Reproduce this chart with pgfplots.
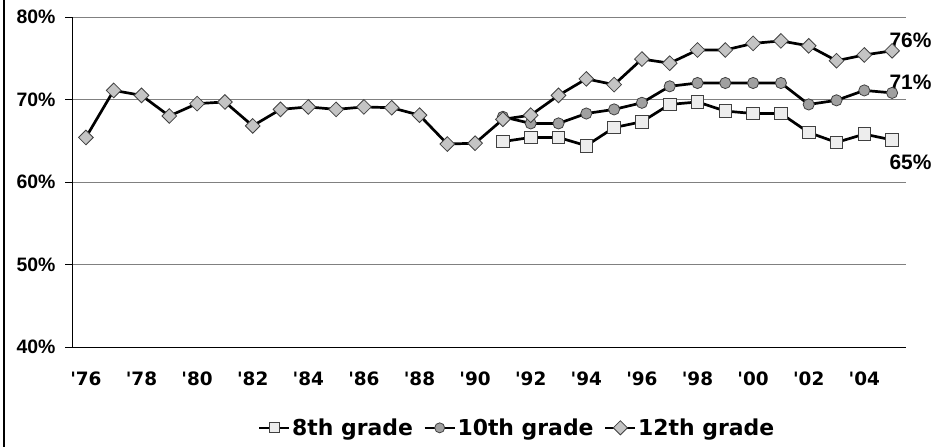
\documentclass[border=0pt]{standalone}
\usepackage{pgfplots}
\pgfplotsset{compat=1.18}
\usepackage{pgfplotstable}
\usepackage{fontspec}
\setmainfont{Liberation Sans}
\newfontfamily\dv{DejaVu Sans}
\definecolor{gridc}{HTML}{808080}
\definecolor{fill8}{HTML}{EDEDED}
\definecolor{fill10}{HTML}{A0A0A0}
\definecolor{fill12}{HTML}{C4C4C4}
\definecolor{edge}{HTML}{404040}

\pgfplotstableread{
year val
1976 65.4
1977 71.1
1978 70.5
1979 68.0
1980 69.5
1981 69.7
1982 66.8
1983 68.8
1984 69.1
1985 68.8
1986 69.1
1987 69.0
1988 68.1
1989 64.6
1990 64.7
1991 67.6
1992 68.1
1993 70.5
1994 72.5
1995 71.8
1996 74.9
1997 74.4
1998 76.0
1999 76.0
2000 76.8
2001 77.1
2002 76.5
2003 74.7
2004 75.4
2005 75.9
}\twelfth

\pgfplotstableread{
year val
1991 67.9
1992 67.1
1993 67.1
1994 68.3
1995 68.8
1996 69.6
1997 71.6
1998 72.0
1999 72.0
2000 72.0
2001 72.0
2002 69.4
2003 69.9
2004 71.1
2005 70.8
}\tenth

\pgfplotstableread{
year val
1991 64.9
1992 65.4
1993 65.4
1994 64.4
1995 66.6
1996 67.3
1997 69.4
1998 69.7
1999 68.6
2000 68.3
2001 68.3
2002 66.0
2003 64.8
2004 65.8
2005 65.1
}\eighth

\begin{document}
\begin{tikzpicture}
\begin{axis}[name=ax,
  scale only axis, width=834bp, height=330bp,
  xmin=1975.5, xmax=2005.5, ymin=40, ymax=80,
  axis x line*=bottom, axis y line*=left,
  axis line style={black, line width=0.8bp},
  xtick={1976,1978,...,2004},
  xticklabels={\textquotesingle76,\textquotesingle78,\textquotesingle80,\textquotesingle82,\textquotesingle84,\textquotesingle86,\textquotesingle88,\textquotesingle90,\textquotesingle92,\textquotesingle94,\textquotesingle96,\textquotesingle98,\textquotesingle00,\textquotesingle02,\textquotesingle04},
  minor xtick={1975.5,1976.5,...,2005.5},
  tick align=outside,
  x tick style={draw=none},
  minor x tick style={black, line width=0.8bp},
  minor tick length=7bp,
  ytick={40,50,60,70,80},
  yticklabels={40\%,50\%,60\%,70\%,80\%},
  y tick style={black, line width=0.8bp},
  major tick length=7bp,
  ymajorgrids, major grid style={gridc, line width=0.9bp},
  xticklabel style={font=\dv\bfseries\fontsize{18.5}{20}\selectfont, yshift=-14bp},
  yticklabel style={font=\bfseries\fontsize{19.5}{22}\selectfont, xshift=-6bp},
  clip=false,
  legend columns=3,
  legend style={draw=none, fill=none, at={(0.534,-0.245)}, anchor=center,
    font=\dv\bfseries\fontsize{22}{24}\selectfont,
    /tikz/every even column/.append style={column sep=9bp}},
  legend image code/.code={
    \draw[black, line width=1.6bp] (0bp,0bp) -- (30bp,0bp);
    \draw[#1, mark size=5bp, line width=0.8bp] plot coordinates {(15bp,0bp)};
  },
]
\addplot[black, line width=2.7bp, mark=square*, mark size=6.3bp,
  mark options={fill=fill8, draw=edge, line width=0.8bp}] table[x=year,y=val]{\eighth};
\addlegendentry{8th grade}
\addplot[black, line width=2.7bp, mark=*, mark size=5.6bp,
  mark options={fill=fill10, draw=edge, line width=0.8bp}] table[x=year,y=val]{\tenth};
\addlegendentry{10th grade}
\addplot[black, line width=2.7bp, mark=square*, mark size=5.2bp,
  mark options={fill=fill12, draw=edge, line width=0.8bp, rotate=45}] table[x=year,y=val]{\twelfth};
\addlegendentry{12th grade}
\node[anchor=west, font=\bfseries\fontsize{21}{23}\selectfont, inner sep=0pt] at (axis cs:2004.9,77.2) {76\%};
\node[anchor=west, font=\bfseries\fontsize{21}{23}\selectfont, inner sep=0pt] at (axis cs:2004.9,72.1) {71\%};
\node[anchor=west, font=\bfseries\fontsize{21}{23}\selectfont, inner sep=0pt] at (axis cs:2004.9,62.4) {65\%};
\end{axis}
\pgfresetboundingbox
\path[use as bounding box] ([xshift=-72bp,yshift=-100bp]ax.south west) rectangle ([xshift=26bp,yshift=17bp]ax.north east);
\draw[black, line width=2.5bp] ([xshift=-68bp,yshift=-100bp]ax.south west) -- ([xshift=-68bp,yshift=17bp]ax.north west);
\end{tikzpicture}
\end{document}
